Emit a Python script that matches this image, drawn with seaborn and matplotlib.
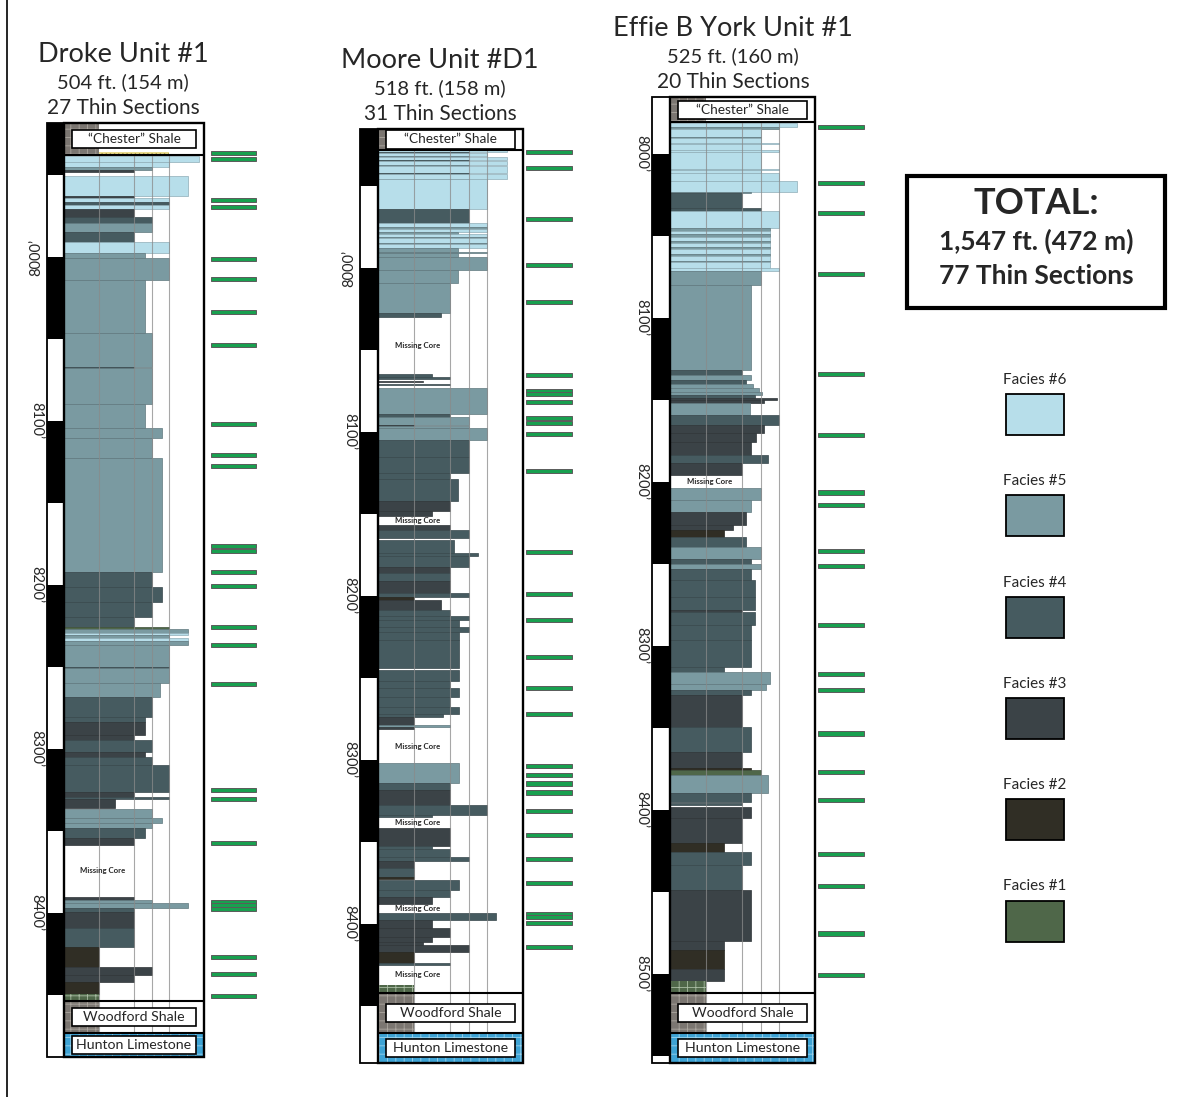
import numpy as np
import pandas as pd
import matplotlib
matplotlib.use("Agg")
import matplotlib.pyplot as plt
from matplotlib.colors import to_rgb
from matplotlib.patches import Rectangle
import seaborn as sns

# ---------------- facies legend ----------------
facies_ids = [6, 5, 4, 3, 2, 1]
facies_colors = ["#b7deea", "#7a9aa1", "#465b60", "#3b4347", "#302e25", "#4f6749"]

# ---------------- Droke Unit #1 ----------------
# (top ft, base ft, facies, grain-size width)
droke_beds = [
    (7938.5, 7942.0, 6, 7.7), (7942.0, 7945.0, 6, 6.0), (7945.0, 7947.0, 5, 5.0),
    (7947.0, 7948.0, 3, 4.0), (7950.5, 7963.0, 6, 7.1), (7963.0, 7964.0, 3, 4.0),
    (7964.0, 7966.5, 6, 6.0), (7966.5, 7968.5, 4, 6.0), (7968.5, 7970.5, 6, 6.0),
    (7970.5, 7975.5, 3, 4.0), (7975.5, 7979.5, 4, 5.0), (7979.5, 7984.5, 5, 5.0),
    (7984.5, 7991.0, 4, 4.0), (7991.0, 7997.5, 6, 6.0), (7997.5, 8000.5, 5, 4.6),
    (8000.5, 8014.0, 5, 6.0), (8014.0, 8046.5, 5, 4.6), (8046.5, 8067.0, 5, 5.0),
    (8067.0, 8068.0, 4, 4.0), (8068.0, 8090.0, 5, 5.0), (8090.0, 8104.5, 5, 4.6),
    (8104.5, 8110.5, 5, 5.6), (8110.5, 8122.5, 5, 5.0), (8122.5, 8192.0, 5, 5.6),
    (8192.0, 8201.5, 4, 5.0), (8201.5, 8210.5, 4, 5.6), (8210.5, 8219.5, 4, 5.0),
    (8219.5, 8225.5, 4, 4.0), (8225.5, 8227.0, 1, 6.0), (8227.0, 8229.5, 5, 7.1),
    (8229.5, 8230.5, 6, 7.1), (8230.5, 8232.5, 5, 6.0), (8232.5, 8234.0, 6, 7.1),
    (8234.0, 8236.5, 5, 7.1), (8236.5, 8250.0, 5, 6.0), (8250.0, 8251.0, 4, 6.0),
    (8251.0, 8260.0, 5, 6.0), (8260.0, 8268.5, 5, 5.5), (8268.5, 8280.5, 4, 5.0),
    (8280.5, 8283.5, 4, 4.6), (8283.5, 8291.5, 3, 4.6), (8291.5, 8294.5, 3, 4.0),
    (8294.5, 8302.0, 4, 5.0), (8302.0, 8305.0, 3, 4.6), (8305.0, 8310.0, 4, 5.0),
    (8310.0, 8326.5, 4, 6.0), (8326.5, 8329.5, 3, 4.0), (8329.5, 8330.5, 4, 6.0),
    (8330.5, 8336.0, 3, 2.9), (8336.5, 8342.0, 5, 5.0), (8342.0, 8345.0, 5, 5.6),
    (8345.0, 8348.5, 5, 5.0), (8348.5, 8354.5, 4, 4.6), (8354.5, 8358.5, 3, 4.0),
    (8390.5, 8392.0, 3, 4.0), (8392.0, 8394.0, 5, 5.0), (8394.0, 8397.0, 5, 7.1),
    (8397.0, 8399.5, 4, 4.0), (8399.5, 8409.5, 3, 4.0), (8409.5, 8421.0, 4, 4.0),
    (8421.0, 8433.0, 2, 2.0), (8433.0, 8438.0, 3, 5.0), (8438.0, 8442.5, 3, 4.0),
    (8442.5, 8449.5, 2, 2.0), (8449.5, 8454.0, 1, 2.0),
]
droke_missing = [(8358.5, 8390.5)]
droke_samples = [7936.5, 7940.0, 7965.0, 7969.5, 8001.0, 8013.5, 8033.5, 8053.5,
                 8102.0, 8121.0, 8127.5, 8176.5, 8179.5, 8192.0, 8200.5, 8225.5,
                 8236.5, 8260.5, 8325.0, 8330.5, 8357.5, 8393.5, 8395.5, 8397.5,
                 8427.0, 8437.5, 8451.0]
# top of log, base of "Chester", top of Woodford, top of Hunton, base of log
droke_units = [7918.3, 7938.0, 8454.0, 8473.5, 8488.0]
droke_marks = [8000, 8100, 8200, 8300, 8400]
droke_sand = (7936.0, 7938.0, 6.0)

# ---------------- Moore Unit #D1 ----------------
moore_beds = [
    (7928.0, 7929.5, 6, 7.1), (7929.5, 7930.0, 4, 5.0), (7930.0, 7931.5, 6, 6.0),
    (7931.5, 7932.0, 5, 5.0), (7932.0, 7934.0, 6, 7.1), (7934.0, 7934.5, 4, 5.0),
    (7934.5, 7937.0, 6, 7.1), (7937.0, 7937.5, 5, 5.0), (7937.5, 7942.0, 6, 7.1),
    (7942.0, 7942.5, 4, 5.0), (7942.5, 7945.5, 6, 7.1), (7945.5, 7946.0, 4, 5.0),
    (7946.0, 7964.0, 6, 6.0), (7964.0, 7972.5, 4, 5.0), (7972.5, 7975.0, 6, 6.0),
    (7975.0, 7976.0, 5, 6.0), (7976.0, 7978.0, 6, 6.0), (7978.0, 7979.0, 5, 4.4),
    (7979.0, 7981.0, 6, 6.0), (7981.0, 7982.0, 5, 6.0), (7982.0, 7984.5, 6, 6.0),
    (7984.5, 7985.5, 5, 6.0), (7985.5, 7988.0, 6, 6.0), (7988.0, 7990.0, 5, 4.4),
    (7990.0, 7991.0, 5, 6.0), (7991.0, 7993.0, 5, 4.4), (7993.0, 8001.0, 5, 6.0),
    (8001.0, 8009.0, 5, 4.4), (8009.0, 8027.5, 5, 4.0), (8027.5, 8030.0, 4, 3.5),
    (8064.5, 8066.5, 4, 3.0), (8066.5, 8067.5, 4, 4.0), (8069.0, 8069.5, 3, 2.5),
    (8071.0, 8071.5, 4, 4.0), (8073.0, 8089.0, 5, 6.0), (8089.0, 8091.0, 4, 4.0),
    (8091.0, 8095.5, 5, 5.0), (8095.5, 8096.5, 3, 2.0), (8096.5, 8097.5, 5, 5.0),
    (8097.5, 8105.0, 5, 6.0), (8105.0, 8115.5, 4, 5.0), (8115.5, 8125.0, 4, 5.0),
    (8125.0, 8128.5, 4, 4.0), (8128.5, 8142.0, 4, 4.4), (8142.0, 8148.0, 3, 4.0),
    (8148.0, 8151.5, 3, 3.0), (8157.0, 8160.0, 3, 4.0), (8160.0, 8165.0, 4, 5.0),
    (8166.0, 8174.0, 4, 4.2), (8174.0, 8175.5, 4, 5.5), (8175.5, 8182.5, 4, 5.0),
    (8182.5, 8186.0, 3, 4.0), (8186.0, 8191.0, 4, 4.0), (8191.0, 8198.0, 3, 4.0),
    (8198.0, 8200.5, 4, 5.0), (8200.5, 8202.5, 2, 2.0), (8202.5, 8208.5, 3, 3.5),
    (8208.5, 8212.0, 4, 4.0), (8212.0, 8215.0, 4, 5.0), (8215.0, 8219.0, 4, 4.5),
    (8219.0, 8222.0, 4, 5.0), (8222.0, 8227.0, 4, 4.5), (8227.0, 8244.0, 4, 4.5),
    (8245.5, 8252.0, 4, 4.5), (8252.0, 8256.0, 4, 4.0), (8256.0, 8262.0, 4, 4.5),
    (8262.0, 8268.0, 4, 4.0), (8268.0, 8272.0, 4, 4.5), (8272.0, 8274.0, 4, 3.6),
    (8274.0, 8279.0, 3, 2.0), (8279.0, 8280.0, 5, 4.0), (8280.0, 8281.5, 3, 2.0),
    (8302.0, 8314.0, 5, 4.5), (8314.0, 8318.5, 4, 4.0), (8318.5, 8327.5, 3, 4.0),
    (8327.5, 8333.5, 4, 6.0), (8333.5, 8335.0, 4, 3.0), (8341.5, 8352.5, 3, 4.0),
    (8352.5, 8354.5, 4, 3.0), (8354.5, 8359.5, 4, 4.0), (8359.5, 8361.5, 4, 5.0),
    (8361.5, 8366.0, 3, 2.0), (8366.0, 8371.5, 4, 2.0), (8371.5, 8372.5, 2, 2.0),
    (8373.5, 8379.5, 4, 4.5), (8379.5, 8383.5, 4, 4.0), (8383.5, 8388.0, 3, 3.0),
    (8393.5, 8397.5, 4, 6.5), (8397.5, 8402.5, 3, 3.0), (8402.5, 8408.0, 3, 4.0),
    (8408.0, 8411.0, 3, 3.0), (8411.0, 8413.0, 3, 2.5), (8413.0, 8417.0, 3, 5.0),
    (8417.0, 8424.0, 2, 2.0), (8424.0, 8425.0, 4, 4.0), (8437.5, 8442.0, 1, 2.0),
]
moore_missing = [(8030.0, 8064.5), (8151.5, 8157.0), (8282.0, 8302.0),
                 (8335.0, 8341.5), (8388.0, 8393.5), (8425.0, 8437.5)]
moore_samples = [7929.5, 7939.0, 7970.0, 7998.0, 8020.5, 8065.5, 8075.0, 8077.0,
                 8082.0, 8091.5, 8094.5, 8101.5, 8124.0, 8173.5, 8199.0, 8215.0,
                 8237.5, 8256.0, 8272.0, 8304.0, 8309.5, 8314.5, 8320.0, 8331.5,
                 8346.0, 8360.5, 8375.0, 8394.0, 8396.0, 8399.5, 8414.0]
moore_units = [7915.2, 7928.0, 8442.3, 8466.7, 8485.0]
moore_marks = [8000, 8100, 8200, 8300, 8400]

# ---------------- Effie B York Unit #1 ----------------
effie_beds = [
    (7981.0, 7983.5, 6, 7.0), (7983.5, 7984.5, 5, 6.0), (7984.5, 7989.5, 6, 5.0),
    (7989.5, 7990.0, 5, 5.0), (7990.0, 7993.0, 6, 5.0), (7993.0, 7994.0, 6, 6.0),
    (7994.0, 7997.5, 6, 5.0), (7997.5, 7998.5, 6, 6.0), (7998.5, 8009.0, 6, 5.0),
    (8009.0, 8010.0, 6, 6.0), (8010.0, 8011.5, 6, 5.0), (8011.5, 8016.5, 6, 6.0),
    (8016.5, 8023.0, 6, 7.0), (8023.0, 8024.0, 5, 4.5), (8024.0, 8033.0, 4, 4.0),
    (8033.0, 8035.0, 4, 5.0), (8035.0, 8045.0, 6, 6.0), (8045.0, 8047.0, 5, 5.5),
    (8047.0, 8049.0, 6, 5.5), (8049.0, 8050.5, 5, 5.5), (8050.5, 8053.0, 6, 5.5),
    (8053.0, 8054.5, 5, 5.5), (8054.5, 8057.0, 6, 5.5), (8057.0, 8058.0, 5, 5.5),
    (8058.0, 8061.0, 6, 5.5), (8061.0, 8062.0, 5, 5.5), (8062.0, 8065.0, 6, 5.5),
    (8065.0, 8066.0, 5, 5.5), (8066.0, 8069.5, 6, 5.5), (8069.5, 8071.5, 6, 6.0),
    (8071.5, 8080.0, 5, 5.0), (8080.0, 8132.0, 5, 4.5), (8132.0, 8135.0, 4, 4.0),
    (8135.0, 8138.0, 5, 4.5), (8138.0, 8140.0, 4, 4.2), (8140.0, 8143.0, 5, 4.6),
    (8143.0, 8145.0, 5, 4.9), (8145.0, 8147.0, 5, 5.1), (8147.0, 8149.0, 4, 4.7),
    (8149.0, 8150.0, 3, 5.9), (8150.0, 8152.0, 3, 5.2), (8152.0, 8159.0, 5, 4.4),
    (8159.0, 8165.5, 4, 6.0), (8165.5, 8170.0, 3, 5.2), (8170.0, 8175.5, 3, 4.75),
    (8175.5, 8183.5, 3, 4.5), (8183.5, 8188.5, 4, 5.4), (8188.5, 8196.0, 3, 4.0),
    (8203.5, 8211.0, 5, 5.0), (8211.0, 8218.5, 5, 4.5), (8218.5, 8226.5, 3, 4.2),
    (8226.5, 8229.5, 3, 3.5), (8229.5, 8233.5, 2, 3.0), (8233.5, 8239.5, 4, 4.2),
    (8239.5, 8247.0, 5, 5.0), (8247.0, 8250.0, 4, 4.5), (8250.0, 8253.0, 5, 5.0),
    (8253.0, 8260.0, 4, 4.5), (8260.0, 8270.0, 4, 4.7), (8270.0, 8278.0, 4, 4.7),
    (8278.0, 8279.5, 3, 4.0), (8279.5, 8287.5, 4, 4.7), (8287.5, 8296.5, 4, 4.5),
    (8296.5, 8313.0, 4, 4.5), (8313.0, 8316.0, 4, 3.0), (8316.0, 8323.5, 5, 5.5),
    (8323.5, 8327.0, 5, 5.3), (8327.0, 8330.0, 4, 4.5), (8330.0, 8349.5, 3, 4.0),
    (8349.5, 8365.0, 4, 4.5), (8365.0, 8374.5, 3, 4.0), (8374.5, 8376.0, 2, 4.5),
    (8376.0, 8379.0, 1, 5.0), (8379.0, 8390.0, 5, 5.4), (8390.0, 8395.5, 4, 4.5),
    (8396.0, 8397.0, 4, 4.0), (8398.5, 8405.0, 3, 4.5), (8405.0, 8420.0, 3, 4.0),
    (8420.0, 8426.0, 2, 3.0), (8426.0, 8434.0, 4, 4.5), (8434.0, 8449.0, 4, 4.0),
    (8449.0, 8480.0, 3, 4.5), (8480.0, 8485.5, 3, 3.0), (8485.5, 8497.0, 2, 3.0),
    (8497.0, 8504.5, 3, 3.0), (8504.5, 8512.0, 1, 2.0),
]
effie_missing = [(8196.0, 8203.5)]
effie_samples = [7983.5, 8017.5, 8036.0, 8073.0, 8134.0, 8171.5, 8206.5, 8214.0,
                 8242.0, 8251.5, 8287.5, 8317.0, 8327.0, 8353.5, 8377.0, 8394.0,
                 8427.0, 8446.5, 8475.5, 8501.0]
effie_units = [7965.2, 7980.5, 8512.0, 8536.2, 8554.5]
effie_marks = [8000, 8100, 8200, 8300, 8400, 8500]

well_titles = ["Droke Unit #1", "Moore Unit #D1", "Effie B York Unit #1"]
well_lengths = ["504 ft. (154 m)", "518 ft. (158 m)", "525 ft. (160 m)"]
well_sections = ["27 Thin Sections", "31 Thin Sections", "20 Thin Sections"]
total_lines = ["TOTAL:", "1,547 ft. (472 m)", "77 Thin Sections"]

# ---------------- styling ----------------
sns.set_theme(style="white", rc={"hatch.linewidth": 0.6})
plt.rcParams["font.family"] = ["Lato", "DejaVu Sans"]
palette = dict(zip(facies_ids, facies_colors))
SHALE_GREY = "#7b7671"
SHALE_LINES = "#aba69f"
HUNTON_BLUE = "#3ea3d4"
HUNTON_LINES = "#9cd2ec"
SAMPLE_GREEN = "#18a04f"

W, H = 1190, 1097
fig = plt.figure(figsize=(W / 100, H / 100), dpi=100)
page = fig.add_axes([0, 0, 1, 1])
page.set_xlim(0, W)
page.set_ylim(H, 0)
page.axis("off")


def darker(color, f=0.78):
    r, g, b = to_rgb(color)
    return (r * f, g * f, b * f)


def well_axes(x_fill, scale, top_px, bottom_px):
    left = x_fill - scale
    return fig.add_axes([left / W, 1 - bottom_px / H, 12 * scale / W,
                         (bottom_px - top_px) / H])


def label_box(ax, y0, y1, text, fs):
    mid = (y0 + y1) / 2
    ax.add_patch(Rectangle((0.45, mid - 5.5), 7.1, 11, fc="white", ec="black",
                           lw=1.2, zorder=6))
    ax.text(4.0, mid, text, ha="center", va="center", fontsize=fs, zorder=7)


def draw_well(ax, beds, missing, samples, units, marks, rotations,
              chester_w, tick_x, tick_w, sand=None):
    top, ches_b, wood_t, hunt_t, bottom = units
    ax.set_xlim(-1, 11)
    ax.set_ylim(bottom, top)
    ax.axis("off")

    # depth scale: black for the first 50 ft of every hundred
    bands = np.arange(np.floor(top / 50) * 50, bottom, 50)
    ax.barh(bands, 1, height=50, left=-1, align="edge", linewidth=0,
            color=["black" if b % 100 == 0 else "white" for b in bands], zorder=1)
    for m, r in zip(marks, rotations):
        ax.text(-1.6, m, f"{m}\u2019", rotation=r, ha="center", va="center",
                fontsize=10.5)

    # facies beds
    df = pd.DataFrame(beds, columns=["top", "base", "facies", "size"])
    body, basal = df.iloc[:-1], df.iloc[-1:]
    ax.barh(body["top"], body["size"], height=body["base"] - body["top"], left=0,
            align="edge", color=body["facies"].map(palette),
            edgecolor=[darker(palette[f]) for f in body["facies"]],
            linewidth=0.5, zorder=2)
    ax.barh(basal["top"], basal["size"], height=basal["base"] - basal["top"],
            left=0, align="edge", color=palette[1], edgecolor="#a9bca3",
            hatch="++", linewidth=0, zorder=2)
    if sand is not None:
        ax.barh(sand[0], sand[2], height=sand[1] - sand[0], left=0, align="edge",
                color="#e9da8c", edgecolor="#9a852c", hatch="....", linewidth=0,
                zorder=2)

    # formation tops
    ax.barh(top, chester_w, height=ches_b - top, left=0, align="edge",
            color=SHALE_GREY, edgecolor=SHALE_LINES, hatch="++", linewidth=0, zorder=2)
    ax.barh(wood_t, 2, height=hunt_t - wood_t, left=0, align="edge",
            color=SHALE_GREY, edgecolor=SHALE_LINES, hatch="++", linewidth=0, zorder=2)
    ax.barh(hunt_t, 8, height=bottom - hunt_t, left=0, align="edge",
            color=HUNTON_BLUE, edgecolor=HUNTON_LINES, hatch="++", linewidth=0,
            zorder=2)

    # grain-size guide lines
    ax.vlines([2, 4, 5, 6], ches_b, hunt_t, colors="#8a8a8a", lw=0.8, alpha=0.75,
              zorder=3)

    for a, b in missing:
        ax.text(2.2, (a + b) / 2, "Missing Core", ha="center", va="center",
                fontsize=5.6, fontweight="bold", zorder=7)

    label_box(ax, top, ches_b, "\u201cChester\u201d Shale", 9.8)
    label_box(ax, wood_t, hunt_t, "Woodford Shale", 10.2)
    label_box(ax, hunt_t, bottom, "Hunton Limestone", 10.2)

    # thin-section sample positions
    ax.barh(samples, tick_w, height=2.5, left=tick_x, align="center",
            color=SAMPLE_GREEN, edgecolor="#5b5b5b", linewidth=0.7, clip_on=False,
            zorder=4)

    # frames
    ax.add_patch(Rectangle((-1, top), 1, bottom - top, fill=False, ec="black",
                           lw=1.3, zorder=8, clip_on=False))
    ax.add_patch(Rectangle((0, top), 8, bottom - top, fill=False, ec="black",
                           lw=1.7, zorder=8, clip_on=False))
    ax.hlines([ches_b, wood_t, hunt_t], 0, 8, colors="black", lw=1.5, zorder=8)


ax_d = well_axes(64, 17.5, 123, 1057)
draw_well(ax_d, droke_beds, droke_missing, droke_samples, droke_units, droke_marks,
          [90, -90, -90, -90, -90], 2.0, 8.4, 2.55, sand=droke_sand)
ax_m = well_axes(378, 18.1, 129, 1063)
draw_well(ax_m, moore_beds, moore_missing, moore_samples, moore_units, moore_marks,
          [90, -90, -90, -90, -90], 0.5, 8.2, 2.5)
ax_e = well_axes(670, 18.1, 97, 1063)
draw_well(ax_e, effie_beds, effie_missing, effie_samples, effie_units, effie_marks,
          [-90] * 6, 2.0, 8.2, 2.5)

# well headers
for (cx, y0), title, length, sections in zip(
        [(123, 54), (440, 60), (733, 28)], well_titles, well_lengths, well_sections):
    page.text(cx, y0, title, ha="center", va="center", fontsize=19.5)
    page.text(cx, y0 + 28, length, ha="center", va="center", fontsize=14.5)
    page.text(cx, y0 + 54, sections, ha="center", va="center", fontsize=15)

# totals box
page.add_patch(Rectangle((907, 176), 258, 132, fill=False, ec="black", lw=3))
page.text(1036, 203, total_lines[0], ha="center", va="center", fontsize=26,
          fontweight="bold")
page.text(1036, 241, total_lines[1], ha="center", va="center", fontsize=19,
          fontweight="bold")
page.text(1036, 276, total_lines[2], ha="center", va="center", fontsize=19,
          fontweight="bold")

# facies legend
for i, (fid, col) in enumerate(zip(facies_ids, facies_colors)):
    yl = 380 + i * 101.3
    page.text(1035, yl, f"Facies #{fid}", ha="center", va="center", fontsize=11)
    page.add_patch(Rectangle((1006, yl + 14), 58, 41, fc=col, ec="black", lw=1.3))

# page margin rule
page.plot([7, 7], [0, H], color="black", lw=1.2)

fig.savefig("out.png", dpi=100)
